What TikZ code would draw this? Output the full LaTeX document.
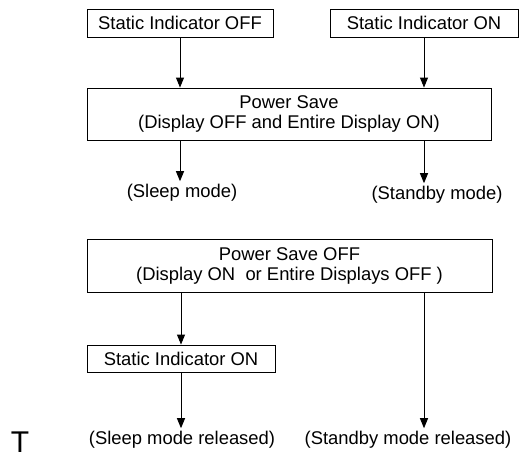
\documentclass[tikz,border=0pt]{standalone}
\usepackage{fontspec}
\setmainfont{Liberation Sans}
\usetikzlibrary{arrows.meta}

\begin{document}
\begin{tikzpicture}[x=1pt,y=-1pt,
  font=\fontsize{18.4}{20}\selectfont,
  box/.style={draw, line width=0.9pt, inner sep=0pt, align=center},
  lbl/.style={inner sep=3pt},
  arr/.style={line width=0.9pt, -{Triangle[width=8pt,length=10pt]}}]
\useasboundingbox (0,0) rectangle (522,461);
\node[box, minimum width=186, minimum height=28] (offbox) at (180,23) {Static Indicator OFF};
\node[box, minimum width=188, minimum height=28] (onbox) at (424,23) {Static Indicator ON};
\node[box, minimum width=404, minimum height=52] (psave) at (289,114) {Power Save\\(Display OFF and Entire Display ON)};
\node[lbl] (sleep) at (182,193) {(Sleep mode)};
\node[lbl] (standby) at (437,195) {(Standby mode)};
\node[box, minimum width=405, minimum height=53] (psoff) at (289.5,265.5) {Power Save OFF\\(Display ON\ \ or Entire Displays OFF )};
\node[box, minimum width=188, minimum height=27] (sion) at (181,358.5) {Static Indicator ON};
\node[lbl] (sleeprel) at (182,440) {(Sleep mode released)};
\node[lbl] (stbrel) at (408,440) {(Standby mode released)};
\node[font=\fontsize{30}{32}\selectfont, inner sep=1pt] (tee) at (20,442) {T};
\draw[arr] (offbox) -- (offbox |- psave.north);
\draw[arr] (onbox) -- (onbox |- psave.north);
\draw[arr] (psave.south -| offbox) -- (offbox |- sleep.north);
\draw[arr] (psave.south -| onbox) -- (onbox |- standby.north);
\draw[arr] (psoff.south -| sion) -- (sion);
\draw[arr] (psoff.south -| onbox) -- (onbox |- stbrel.north);
\draw[arr] (sion) -- (sion |- sleeprel.north);
\end{tikzpicture}
\end{document}
